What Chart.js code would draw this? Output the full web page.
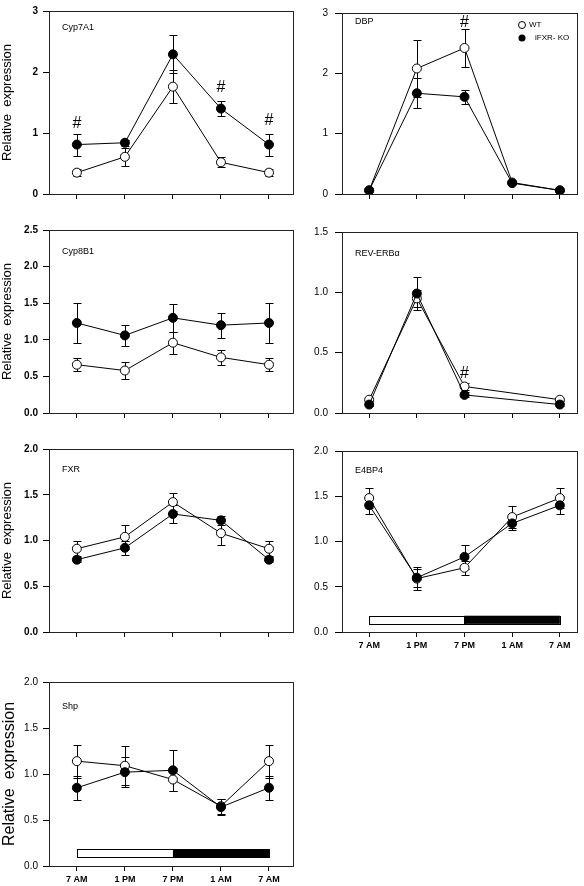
<!DOCTYPE html>
<html>
<head>
<meta charset="utf-8">
<script src="https://cdn.jsdelivr.net/npm/chart.js@4.4.1/dist/chart.umd.min.js"></script>
<style>
  body { margin: 0; background: #fff; width: 584px; height: 886px; position: relative; overflow: hidden; }
  canvas { position: absolute; }
</style>
</head>
<body>
<script>
// time points (x axis)
const timeLabels = ['7 AM', '1 PM', '7 PM', '1 AM', '7 AM'];

// Cyp7A1
const cyp7a1Wt = [0.35, 0.61, 1.76, 0.52, 0.35];
const cyp7a1WtErr = [0.06, 0.15, 0.27, 0.08, 0.06];
const cyp7a1Ko = [0.81, 0.84, 2.29, 1.40, 0.81];
const cyp7a1KoErr = [0.18, 0.05, 0.31, 0.12, 0.18];
const cyp7a1Hash = [[0, 1.16], [3, 1.74], [4, 1.21]];

// DBP
const dbpWt = [0.06, 2.08, 2.42, 0.19, 0.06];
const dbpWtErr = [0, 0.48, 0.31, 0.02, 0.01];
const dbpKo = [0.06, 1.67, 1.61, 0.18, 0.06];
const dbpKoErr = [0, 0.25, 0.11, 0.02, 0.01];
const dbpHash = [[2, 2.84]];

// Cyp8B1
const cyp8b1Wt = [0.66, 0.58, 0.96, 0.76, 0.66];
const cyp8b1WtErr = [0.09, 0.12, 0.15, 0.10, 0.09];
const cyp8b1Ko = [1.23, 1.06, 1.30, 1.20, 1.23];
const cyp8b1KoErr = [0.27, 0.14, 0.19, 0.17, 0.27];

// REV-ERBa (no 1 AM point)
const revWt = [0.11, 0.95, 0.22, null, 0.11];
const revWtErr = [0.01, 0.07, 0.03, null, 0.01];
const revKo = [0.07, 0.99, 0.15, null, 0.07];
const revKoErr = [0.01, 0.14, 0.02, null, 0.01];
const revHash = [[2, 0.33]];

// FXR
const fxrWt = [0.91, 1.04, 1.42, 1.08, 0.91];
const fxrWtErr = [0.08, 0.13, 0.10, 0.13, 0.08];
const fxrKo = [0.79, 0.92, 1.29, 1.22, 0.79];
const fxrKoErr = [0.03, 0.08, 0.10, 0.05, 0.03];

// E4BP4
const e4bp4Wt = [1.48, 0.59, 0.71, 1.27, 1.48];
const e4bp4WtErr = [0.11, 0.13, 0.08, 0.12, 0.11];
const e4bp4Ko = [1.40, 0.60, 0.83, 1.20, 1.40];
const e4bp4KoErr = [0.10, 0.10, 0.13, 0.07, 0.10];

// Shp
const shpWt = [1.14, 1.09, 0.94, 0.65, 1.14];
const shpWtErr = [0.18, 0.21, 0.13, 0.08, 0.18];
const shpKo = [0.85, 1.02, 1.04, 0.64, 0.85];
const shpKoErr = [0.13, 0.16, 0.22, 0.09, 0.13];

// light / dark bar (x from, x to, fill) and its y band
const phaseFrom = [0, 2];
const phaseTo = [2, 4];
const phaseFill = ['#fff', '#000'];
const phaseBand = [0.09, 0.18];

Chart.defaults.font.family = 'Arial, "Liberation Sans", sans-serif';
Chart.defaults.color = '#000';

// column geometry
const cols = [
  { left: 0, width: 300, axisW: 49, padR: 7, xMin: -0.58, xMax: 4.5, tickLen: 6, tickPad: 5 },
  { left: 292, width: 292, axisW: 50, padR: 7, xMin: -0.57, xMax: 4.36, tickLen: 7, tickPad: 7 }
];
// frame top / bottom per row
const rows = [[6, 194], [225, 413], [444, 632], [677, 866]];

const panels = [
  { name: 'Cyp7A1', wt: cyp7a1Wt, wtErr: cyp7a1WtErr, ko: cyp7a1Ko, koErr: cyp7a1KoErr, hash: cyp7a1Hash,
    yMax: 3, step: 1, dec: 0, col: 0, row: 0, bold: true, yTitle: 13, titleDy: 17 },
  { name: 'DBP', wt: dbpWt, wtErr: dbpWtErr, ko: dbpKo, koErr: dbpKoErr, hash: dbpHash,
    yMax: 3, step: 1, dec: 0, col: 1, row: 0, titleDy: 9, legend: true },
  { name: 'Cyp8B1', wt: cyp8b1Wt, wtErr: cyp8b1WtErr, ko: cyp8b1Ko, koErr: cyp8b1KoErr,
    yMax: 2.5, step: 0.5, dec: 1, col: 0, row: 1, bold: true, yTitle: 13, titleDy: 22 },
  { name: 'REV-ERBα', wt: revWt, wtErr: revWtErr, ko: revKo, koErr: revKoErr, hash: revHash,
    yMax: 1.5, step: 0.5, dec: 1, col: 1, row: 1, titleDy: 22 },
  { name: 'FXR', wt: fxrWt, wtErr: fxrWtErr, ko: fxrKo, koErr: fxrKoErr,
    yMax: 2, step: 0.5, dec: 1, col: 0, row: 2, bold: true, yTitle: 13, titleDy: 21 },
  { name: 'E4BP4', wt: e4bp4Wt, wtErr: e4bp4WtErr, ko: e4bp4Ko, koErr: e4bp4KoErr,
    yMax: 2, step: 0.5, dec: 1, col: 1, row: 2, titleDy: 20, xLabels: true, phases: true },
  { name: 'Shp', wt: shpWt, wtErr: shpWtErr, ko: shpKo, koErr: shpKoErr,
    yMax: 2, step: 0.5, dec: 1, col: 0, row: 3, yTitle: 16, titleDy: 25, xLabels: true, phases: true }
];

// frame, light/dark bar, error bars, hashes, panel name, legend
const decor = {
  id: 'decor',
  beforeDatasetsDraw(chart, args, o) {
    const { ctx, chartArea: a, scales: { x, y } } = chart;
    ctx.save();
    ctx.strokeStyle = '#222';
    ctx.lineWidth = 1;
    ctx.strokeRect(Math.round(a.left) + 0.5, Math.round(a.top) + 0.5,
      Math.round(a.right - a.left), Math.round(a.bottom - a.top));

    if (o.phases) {
      const yt = y.getPixelForValue(phaseBand[1]), yb = y.getPixelForValue(phaseBand[0]);
      phaseFrom.forEach((f, i) => {
        const x0 = x.getPixelForValue(f), x1 = x.getPixelForValue(phaseTo[i]);
        ctx.fillStyle = phaseFill[i];
        ctx.fillRect(x0, yt, x1 - x0, yb - yt);
        ctx.strokeStyle = '#000';
        ctx.strokeRect(Math.round(x0) + 0.5, Math.round(yt) + 0.5, Math.round(x1 - x0), Math.round(yb - yt));
      });
    }

    ctx.strokeStyle = '#000';
    chart.data.datasets.forEach(ds => {
      ds.data.forEach((p, i) => {
        const e = ds.errors[i];
        if (p.y == null || !e) return;
        const px = Math.round(x.getPixelForValue(p.x)) + 0.5;
        const t = Math.round(y.getPixelForValue(p.y + e)) + 0.5;
        const b = Math.round(y.getPixelForValue(p.y - e)) + 0.5;
        ctx.beginPath();
        ctx.moveTo(px, t); ctx.lineTo(px, b);
        ctx.moveTo(px - 4, t); ctx.lineTo(px + 4, t);
        ctx.moveTo(px - 4, b); ctx.lineTo(px + 4, b);
        ctx.stroke();
      });
    });

    ctx.fillStyle = '#000';
    ctx.textAlign = 'center';
    ctx.textBaseline = 'middle';
    ctx.font = '16px Arial, "Liberation Sans", sans-serif';
    (o.hash || []).forEach(([i, v]) => {
      ctx.fillText('#', x.getPixelForValue(i), y.getPixelForValue(v));
    });

    ctx.textAlign = 'left';
    ctx.font = '9px Arial, "Liberation Sans", sans-serif';
    ctx.fillText(o.name, a.left + 13, a.top + o.titleDy);

    if (o.legend) {
      const lx = a.right - 55;
      ctx.font = '8px Arial, "Liberation Sans", sans-serif';
      ctx.beginPath(); ctx.arc(lx, a.top + 12, 3.5, 0, Math.PI * 2);
      ctx.fillStyle = '#fff'; ctx.fill(); ctx.stroke();
      ctx.beginPath(); ctx.arc(lx, a.top + 25, 3.5, 0, Math.PI * 2);
      ctx.fillStyle = '#000'; ctx.fill();
      ctx.fillText('WT', lx + 7, a.top + 12);
      ctx.fillText('iFXR- KO', lx + 13, a.top + 25);
    }
    ctx.restore();
  }
};

function makeSet(label, values, errors, fill, order) {
  return {
    label,
    data: values.map((v, i) => ({ x: i, y: v })),
    errors,
    order,
    borderColor: '#000',
    borderWidth: 1,
    backgroundColor: fill,
    pointBackgroundColor: fill,
    pointBorderColor: '#000',
    pointBorderWidth: 1,
    pointRadius: 4.5,
    spanGaps: true,
    tension: 0
  };
}

panels.forEach(p => {
  const c = cols[p.col];
  const [ft, fb] = rows[p.row];
  const canvas = document.createElement('canvas');
  const h = fb - ft + 6 + 24;
  canvas.width = c.width;
  canvas.height = h;
  canvas.style.left = c.left + 'px';
  canvas.style.top = (ft - 6) + 'px';
  document.body.appendChild(canvas);

  new Chart(canvas.getContext('2d'), {
    type: 'line',
    data: {
      datasets: [
        makeSet('iFXR-KO', p.ko, p.koErr, '#000', 0),
        makeSet('WT', p.wt, p.wtErr, '#fff', 1)
      ]
    },
    options: {
      responsive: false,
      animation: false,
      layout: { padding: { top: 6, right: c.padR, left: 0, bottom: 0 } },
      plugins: {
        legend: { display: false },
        tooltip: { enabled: false },
        decor: { name: p.name, titleDy: p.titleDy, hash: p.hash, legend: p.legend, phases: p.phases }
      },
      scales: {
        x: {
          type: 'linear',
          min: c.xMin,
          max: c.xMax,
          afterBuildTicks: s => { s.ticks = timeLabels.map((t, i) => ({ value: i })); },
          afterFit: s => { s.height = 24; },
          grid: { drawOnChartArea: false, drawTicks: true, tickLength: 5, color: '#000' },
          border: { display: false },
          ticks: {
            display: !!p.xLabels,
            autoSkip: false,
            maxRotation: 0,
            padding: 3,
            font: { size: 9, weight: 'bold', family: '"Liberation Sans Narrow", "Arial Narrow", Arial, sans-serif' },
            callback: v => timeLabels[v]
          }
        },
        y: {
          min: 0,
          max: p.yMax,
          afterFit: s => { s.width = c.axisW; },
          grid: { drawOnChartArea: false, drawTicks: true, tickLength: c.tickLen, color: '#000' },
          border: { display: false },
          ticks: {
            stepSize: p.step,
            padding: c.tickPad,
            font: { size: 10, weight: p.bold ? 'bold' : 'normal' },
            callback: v => v.toFixed(p.dec)
          },
          title: {
            display: !!p.yTitle,
            text: 'Relative  expression',
            padding: 0,
            font: { size: p.yTitle || 13 }
          }
        }
      }
    },
    plugins: [decor]
  });
});
</script>
</body>
</html>
